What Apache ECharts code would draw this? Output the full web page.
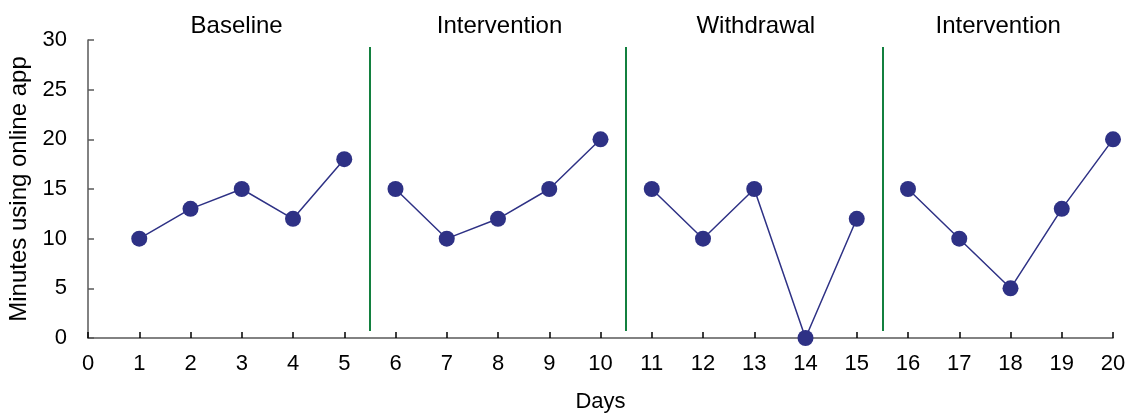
<!DOCTYPE html>
<html><head><meta charset="utf-8">
<script src="https://cdn.jsdelivr.net/npm/echarts@6/dist/echarts.min.js"></script>
<style>html,body{margin:0;padding:0;background:#fff}#c{width:1129px;height:413px}</style>
</head><body><div id="c"></div>
<script>
const xTicks = [0,1,2,3,4,5,6,7,8,9,10,11,12,13,14,15,16,17,18,19,20];
const yTicks = [0,5,10,15,20,25,30];
const baselineDays = [1,2,3,4,5];
const baselineVals = [10,13,15,12,18];
const intervention1Days = [6,7,8,9,10];
const intervention1Vals = [15,10,12,15,20];
const withdrawalDays = [11,12,13,14,15];
const withdrawalVals = [15,10,15,0,12];
const intervention2Days = [16,17,18,19,20];
const intervention2Vals = [15,10,5,13,20];
const phaseLineX = [5.5,10.5,15.5];
const phaseLineYRange = [0.7,29.3];
const phaseNames = ['Baseline','Intervention','Withdrawal','Intervention'];
const phaseNameX = [2.9,8.03,13.03,17.76];

const font = 'Liberation Sans, Arial, sans-serif';
const navy = '#2E3185';
function pairs(xs, ys){ return xs.map((x,i)=>[x, ys[i]]); }
function lineSeries(name, xs, ys, withMarks){
  const s = {
    name, type:'line', data: pairs(xs, ys), clip:false,
    symbol:'circle', symbolSize:16,
    lineStyle:{color:navy, width:1.5},
    itemStyle:{color:navy},
    emphasis:{disabled:true}, animation:false
  };
  if (withMarks) {
    s.markLine = {
      silent:true, symbol:['none','none'], animation:false,
      lineStyle:{color:'#13803F', width:2, type:'solid'},
      label:{show:false},
      data: phaseLineX.map(x => [{coord:[x, phaseLineYRange[0]]},{coord:[x, phaseLineYRange[1]]}])
    };
  }
  return s;
}
const chart = echarts.init(document.getElementById('c'), null, {renderer:'canvas'});
chart.setOption({
  animation:false,
  grid:{left:88, right:16, top:40, bottom:75, outerBoundsMode:'none', containLabel:false},
  xAxis:{
    type:'value', min:0, max:20, interval:1,
    name:'Days', nameLocation:'middle', nameGap:53,
    nameTextStyle:{fontFamily:font, fontSize:22, color:'#000'},
    axisLine:{show:true, lineStyle:{color:'#595959', width:1.5}},
    axisTick:{show:true, inside:true, length:6, lineStyle:{color:'#000', width:1.5}},
    axisLabel:{fontFamily:font, fontSize:22, color:'#000', margin:15},
    splitLine:{show:false}
  },
  yAxis:{
    type:'value', min:0, max:30, interval:5,
    name:'Minutes using online app', nameLocation:'middle', nameGap:57,
    nameTextStyle:{fontFamily:font, fontSize:24, color:'#000'},
    axisLine:{show:true, lineStyle:{color:'#595959', width:1.5}},
    axisTick:{show:true, inside:true, length:6, lineStyle:{color:'#595959', width:1.5}},
    axisLabel:{fontFamily:font, fontSize:22, color:'#000', margin:21},
    splitLine:{show:false}
  },
  series:[
    lineSeries('Baseline', baselineDays, baselineVals, true),
    lineSeries('Intervention1', intervention1Days, intervention1Vals, false),
    lineSeries('Withdrawal', withdrawalDays, withdrawalVals, false),
    lineSeries('Intervention2', intervention2Days, intervention2Vals, false)
  ]
});
const graphics = phaseNames.map((n,i)=>{
  const p = chart.convertToPixel({gridIndex:0}, [phaseNameX[i], 30]);
  return {type:'text', x:p[0], y:26, style:{text:n, fontFamily:font, fontSize:24, fill:'#000', align:'center', verticalAlign:'middle'}};
});
chart.setOption({graphic:graphics});
</script></body></html>
